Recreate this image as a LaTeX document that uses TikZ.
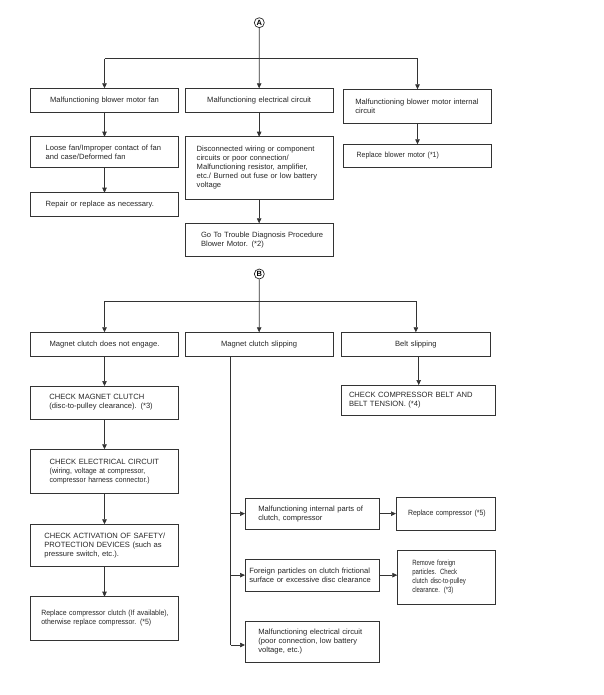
\documentclass[tikz,border=0pt]{standalone}
\usepackage{fontspec}
\setmainfont{Liberation Sans}
\newfontfamily\narA[FakeStretch=0.91]{Liberation Sans}
\newfontfamily\narB[FakeStretch=0.79]{Liberation Sans}
\usetikzlibrary{arrows.meta}
\newcommand\fs{\fontsize{7.6}{9}\selectfont\spaceskip=0.34em plus 0.1em minus 0.05em\relax}
\newcommand\bt[2]{\parindent=0pt\leftskip=#1pt\rightskip=-12pt plus 1fil\relax #2\par}
\tikzset{
  bx/.style={draw=black!80, line width=0.7pt, rectangle, anchor=north west, outer sep=0pt,
    inner xsep=0pt, inner ysep=0pt, font=\fs, text=black!85},
  cb/.style={bx, align=center},
  arr/.style={draw=black!80, line width=0.7pt, -{Triangle[length=5pt,width=4.5pt]}},
  ln/.style={draw=black!80, line width=0.7pt},
  circ/.style={circle, draw=black!85, line width=0.7pt, inner sep=0pt, minimum size=10pt,
    font=\bfseries\fontsize{7.5}{7.5}\selectfont}
}
\begin{document}
\begin{tikzpicture}[x=1pt,y=-1pt]
\path[use as bounding box] (0,0) rectangle (603,695);

% ---------- A ----------
\node[circ] (A) at (259.3,22.7) {A};
\coordinate (hA) at (259.3,58.7);

\node[cb, minimum width=147.6pt, minimum height=23.7pt, text width=147.6pt] (a1) at (30.7,88.3) {Malfunctioning blower motor fan};
\node[cb, minimum width=148.3pt, minimum height=23.7pt, text width=148.3pt] (a2) at (185,88.3) {Malfunctioning electrical circuit};
\node[bx, minimum width=148.4pt, minimum height=34pt, text width=148.4pt] (a3) at (343.3,89.3) {\bt{12}{Malfunctioning blower motor internal\\circuit}};

\node[bx, minimum width=147.6pt, minimum height=31pt, text width=147.6pt] (a11) at (30.7,136.7) {\bt{15}{Loose fan/Improper contact of fan\\and case/Deformed fan}};
\node[bx, minimum width=147.6pt, minimum height=24pt, text width=147.6pt] (a12) at (30.7,192.7) {\bt{15}{Repair or replace as necessary.}};
\node[bx, minimum width=148.3pt, minimum height=62.6pt, text width=148.3pt] (a21) at (185,136.7) {\bt{11.7}{Disconnected wiring or component\\circuits or poor connection/\\Malfunctioning resistor, amplifier,\\etc./ Burned out fuse or low battery\\voltage}};
\node[bx, minimum width=148.3pt, minimum height=32.7pt, text width=148.3pt] (a22) at (185,223.3) {\bt{16}{Go To Trouble Diagnosis Procedure\\Blower Motor. (*2)}};
\node[bx, minimum width=148.4pt, minimum height=23pt, text width=148.4pt] (a31) at (343.3,144.3) {\bt{13.4}{\narA Replace blower motor (*1)}};

\draw[arr] (A) -- (a2.north);
\draw[ln] (a1.north |- hA) -- (a3.north |- hA);
\draw[arr] (a1.north |- hA) -- (a1.north);
\draw[arr] (a3.north |- hA) -- (a3.north);
\draw[arr] (a1) -- (a11);
\draw[arr] (a11) -- (a12);
\draw[arr] (a2) -- (a21);
\draw[arr] (a21) -- (a22);
\draw[arr] (a3) -- (a31);

% ---------- B ----------
\node[circ] (B) at (259.3,274) {B};
\coordinate (hB) at (259.3,301);

\node[cb, minimum width=147.6pt, minimum height=23.7pt, text width=147.6pt] (b1) at (30.7,332.3) {Magnet clutch does not engage.};
\node[cb, minimum width=148.3pt, minimum height=23.7pt, text width=148.3pt] (b2) at (185,332.3) {Magnet clutch slipping};
\node[cb, minimum width=148.3pt, minimum height=23.7pt, text width=148.3pt] (b3) at (341.7,332.3) {Belt slipping};

\node[bx, minimum width=147.6pt, minimum height=33pt, text width=147.6pt] (b11) at (30.7,386) {\bt{18.6}{CHECK MAGNET CLUTCH\\(disc-to-pulley clearance). (*3)}};
\node[bx, minimum width=147.6pt, minimum height=44.4pt, text width=147.6pt] (b12) at (30.7,449.3) {\bt{19}{CHECK ELECTRICAL CIRCUIT\\{\narA (wiring, voltage at compressor,}\\{\narA compressor harness connector.)}}};
\node[bx, minimum width=147.6pt, minimum height=42.4pt, text width=147.6pt] (b13) at (30.7,524.3) {\bt{13.6}{CHECK ACTIVATION OF SAFETY/\\PROTECTION DEVICES (such as\\pressure switch, etc.).}};
\node[bx, minimum width=147.6pt, minimum height=43.3pt, text width=147.6pt] (b14) at (30.7,596.7) {\bt{10.6}{\narA Replace compressor clutch (If available),\\otherwise replace compressor. (*5)}};

\node[bx, minimum width=154pt, minimum height=30.7pt, text width=154pt] (b31) at (341.7,385) {\bt{7.3}{CHECK COMPRESSOR BELT AND\\BELT TENSION. (*4)}};

\node[bx, minimum width=134.3pt, minimum height=30.7pt, text width=134.3pt] (c1) at (245,498.3) {\bt{13.3}{Malfunctioning internal parts of\\clutch, compressor}};
\node[bx, minimum width=134.3pt, minimum height=31.7pt, text width=134.3pt] (c2) at (245,559.3) {\bt{4.3}{Foreign particles on clutch frictional\\surface or excessive disc clearance}};
\node[bx, minimum width=134.3pt, minimum height=41.3pt, text width=134.3pt] (c3) at (245,621) {\bt{13.3}{Malfunctioning electrical circuit\\(poor connection, low battery\\voltage, etc.)}};

\node[bx, minimum width=99pt, minimum height=32.3pt, text width=99pt] (d1) at (396,497.7) {\bt{12}{\narA Replace compressor (*5)}};
\node[bx, minimum width=97.7pt, minimum height=53.3pt, text width=97.7pt] (d2) at (397.3,550.7) {\bt{15}{\narB Remove foreign\\particles. Check\\clutch disc-to-pulley\\clearance. (*3)}};

\draw[arr] (B) -- (b2.north);
\draw[ln] (b1.north |- hB) -- (b3.north |- hB);
\draw[arr] (b1.north |- hB) -- (b1.north);
\draw[arr] (b3.north |- hB) -- (b3.north);
\draw[arr] (b1) -- (b11);
\draw[arr] (b11) -- (b12);
\draw[arr] (b12) -- (b13);
\draw[arr] (b13) -- (b14);
\draw[arr] (b3.south -| b31.north) -- (b31.north);

\coordinate (t0) at (230.7,356);
\coordinate (t3) at (230.7,645);
\draw[ln] (t0) -- (t3);
\draw[arr] (t0 |- c1.west) -- (c1.west);
\draw[arr] (t0 |- c2.west) -- (c2.west);
\draw[arr] (t3) -- (t3 -| c3.west);
\draw[arr] (c1.east) -- (c1.east -| d1.west);
\draw[arr] (c2.east) -- (c2.east -| d2.west);
\end{tikzpicture}
\end{document}
